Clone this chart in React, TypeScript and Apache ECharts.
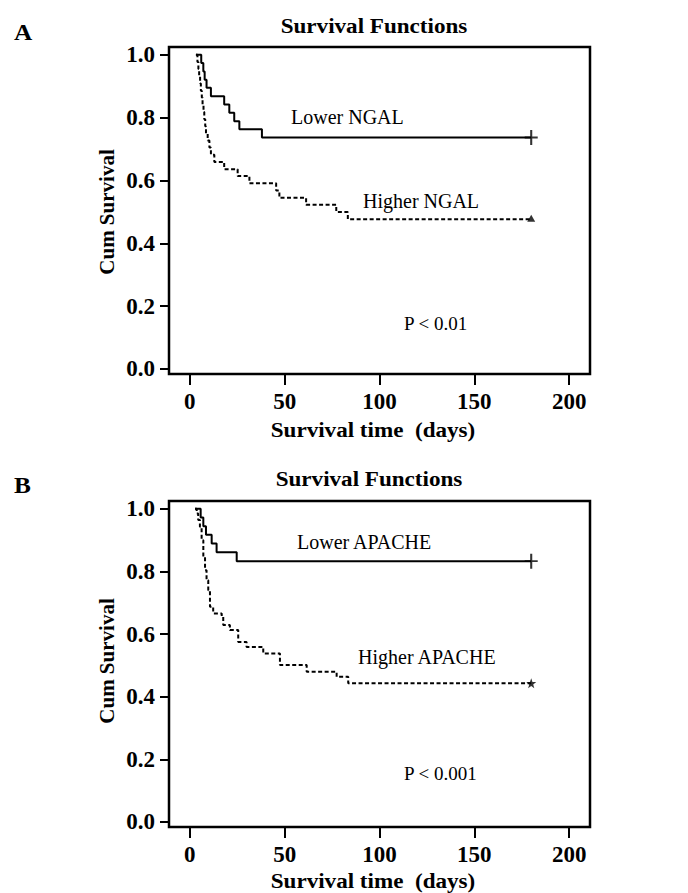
import React, { useEffect, useRef } from 'react';
import * as echarts from 'echarts';

const xTicks = [0, 50, 100, 150, 200];
const yTicks = [0, 0.2, 0.4, 0.6, 0.8, 1.0];

// Panel A: NGAL
const lowerNgalTime = [3.2, 6.0, 7.1, 7.8, 8.8, 11.1, 18.1, 20.8, 23.4, 26.1, 38.0, 180];
const lowerNgalSurv = [1.0, 0.974, 0.947, 0.921, 0.895, 0.868, 0.842, 0.816, 0.789, 0.763, 0.737, 0.737];

const higherNgalTime = [3.2, 4.0, 4.5, 4.9, 5.4, 5.8, 6.3, 6.7, 7.2, 7.6, 8.1, 8.5, 9.4, 10.3, 11.1, 12.9, 18.1, 25.2, 31.4, 45.5, 47.2, 61.3, 77.2, 83.3, 180];
const higherNgalSurv = [1.0, 0.977, 0.955, 0.932, 0.909, 0.886, 0.864, 0.841, 0.818, 0.795, 0.773, 0.75, 0.727, 0.705, 0.682, 0.659, 0.636, 0.614, 0.591, 0.568, 0.545, 0.523, 0.5, 0.477, 0.477];

// Panel B: APACHE
const lowerApacheTime = [2.7, 5.7, 7.1, 8.5, 11.5, 14.1, 24.7, 180];
const lowerApacheSurv = [1.0, 0.972, 0.944, 0.917, 0.889, 0.861, 0.833, 0.833];

const higherApacheTime = [2.7, 3.6, 4.4, 5.3, 6.2, 7.1, 8.0, 8.8, 9.7, 10.6, 12.3, 16.8, 17.6, 21.1, 25.5, 29.9, 38.7, 47.5, 61.6, 77.4, 83.5, 180];
const higherApacheSurv = [1.0, 0.985, 0.964, 0.943, 0.9, 0.847, 0.804, 0.772, 0.74, 0.687, 0.666, 0.655, 0.629, 0.613, 0.575, 0.559, 0.538, 0.501, 0.48, 0.464, 0.443, 0.443];

const FONT = "'Liberation Serif', 'Times New Roman', serif";

const PLUS = 'path://M-0.16,-1 L0.16,-1 L0.16,-0.13 L1,-0.13 L1,0.13 L0.16,0.13 L0.16,1 L-0.16,1 L-0.16,0.13 L-1,0.13 L-1,-0.13 L-0.16,-0.13 Z';
const STAR = 'path://M0,-10 L2.35,-3.24 L9.51,-3.09 L3.8,1.24 L5.88,8.09 L0,4 L-5.88,8.09 L-3.8,1.24 L-9.51,-3.09 L-2.35,-3.24 Z';

function pairs(t: number[], s: number[]) {
  return t.map((v, i) => [v, s[i]]);
}

function lastPoint(t: number[], s: number[]) {
  return [[t[t.length - 1], s[s.length - 1]]];
}

function xAxis(gridIndex: number) {
  return {
    type: 'value',
    gridIndex,
    min: -11,
    max: 211,
    axisLine: { show: false, onZero: false },
    axisTick: { show: true, customValues: xTicks, length: 11, lineStyle: { color: '#000', width: 2 } },
    axisLabel: {
      customValues: xTicks,
      margin: 16,
      fontFamily: FONT,
      fontSize: 23,
      fontWeight: 'bold',
      color: '#000',
    },
    splitLine: { show: false },
  };
}

function yAxis(gridIndex: number) {
  return {
    type: 'value',
    gridIndex,
    min: -0.016,
    max: 1.025,
    axisLine: { show: false, onZero: false },
    axisTick: { show: true, customValues: yTicks, length: 9, lineStyle: { color: '#000', width: 2 } },
    axisLabel: {
      customValues: yTicks,
      margin: 14,
      formatter: (v: number) => v.toFixed(1),
      fontFamily: FONT,
      fontSize: 23,
      fontWeight: 'bold',
      color: '#000',
    },
    splitLine: { show: false },
  };
}

function txt(text: string, x: number, y: number, opts: any = {}) {
  return {
    type: 'text',
    x,
    y,
    rotation: opts.rotation || 0,
    scaleX: opts.scaleX || 1,
    z: 100,
    style: {
      text,
      fill: '#000',
      font: `${opts.weight || 'normal'} ${opts.size || 20}px ${FONT}`,
      align: opts.align || 'left',
      verticalAlign: 'middle',
    },
  };
}

export default function App() {
  const ref = useRef<HTMLDivElement>(null);

  useEffect(() => {
    if (!ref.current) return;
    const chart = echarts.init(ref.current, undefined, { renderer: 'svg' });
    const solid = { color: '#000', width: 2, type: 'solid' };
    const dashed = { color: '#000', width: 2, type: [4, 2.5] };
    const bold = { weight: 'bold', size: 21, scaleX: 1.1 };

    chart.setOption({
      animation: false,
      backgroundColor: '#fff',
      grid: [
        { left: 169, top: 47, width: 421, height: 327, show: true, borderColor: '#000', borderWidth: 2.5, backgroundColor: 'transparent' },
        { left: 169, top: 501, width: 421, height: 326, show: true, borderColor: '#000', borderWidth: 2.5, backgroundColor: 'transparent' },
      ],
      xAxis: [xAxis(0), xAxis(1)],
      yAxis: [yAxis(0), yAxis(1)],
      series: [
        { type: 'line', xAxisIndex: 0, yAxisIndex: 0, step: 'end', symbol: 'none', lineStyle: solid, data: pairs(lowerNgalTime, lowerNgalSurv) },
        { type: 'line', xAxisIndex: 0, yAxisIndex: 0, step: 'end', symbol: 'none', lineStyle: dashed, data: pairs(higherNgalTime, higherNgalSurv) },
        { type: 'scatter', xAxisIndex: 0, yAxisIndex: 0, symbol: PLUS, symbolSize: [13, 15], itemStyle: { color: '#000' }, data: lastPoint(lowerNgalTime, lowerNgalSurv) },
        { type: 'scatter', xAxisIndex: 0, yAxisIndex: 0, symbol: 'triangle', symbolSize: [8, 7], symbolOffset: [0, -1], itemStyle: { color: '#000' }, data: lastPoint(higherNgalTime, higherNgalSurv) },

        { type: 'line', xAxisIndex: 1, yAxisIndex: 1, step: 'end', symbol: 'none', lineStyle: solid, data: pairs(lowerApacheTime, lowerApacheSurv) },
        { type: 'line', xAxisIndex: 1, yAxisIndex: 1, step: 'end', symbol: 'none', lineStyle: dashed, data: pairs(higherApacheTime, higherApacheSurv) },
        { type: 'scatter', xAxisIndex: 1, yAxisIndex: 1, symbol: PLUS, symbolSize: [13, 15], itemStyle: { color: '#000' }, data: lastPoint(lowerApacheTime, lowerApacheSurv) },
        { type: 'scatter', xAxisIndex: 1, yAxisIndex: 1, symbol: STAR, symbolSize: 10, itemStyle: { color: '#000' }, data: lastPoint(higherApacheTime, higherApacheSurv) },
      ],
      graphic: [
        txt('A', 14, 32, { weight: 'bold', size: 23, scaleX: 1.1 }),
        txt('B', 14, 485, { weight: 'bold', size: 23, scaleX: 1.1 }),
        txt('Survival Functions', 374, 26, { ...bold, align: 'center' }),
        txt('Survival Functions', 369, 479, { ...bold, align: 'center' }),
        txt('Cum Survival', 107, 212, { weight: 'bold', size: 21, align: 'center', rotation: Math.PI / 2 }),
        txt('Cum Survival', 107, 661, { weight: 'bold', size: 21, align: 'center', rotation: Math.PI / 2 }),
        txt('Survival time  (days)', 373, 430, { ...bold, align: 'center' }),
        txt('Survival time  (days)', 373, 881, { ...bold, align: 'center' }),
        txt('Lower NGAL', 291, 117, { size: 20 }),
        txt('Higher NGAL', 363, 201, { size: 20 }),
        txt('P < 0.01', 404, 323, { size: 19 }),
        txt('Lower APACHE', 297, 542, { size: 20 }),
        txt('Higher APACHE', 358, 657, { size: 20 }),
        txt('P < 0.001', 404, 773, { size: 19 }),
      ],
    });

    return () => chart.dispose();
  }, []);

  return <div ref={ref} style={{ position: 'absolute', left: 0, top: 0, width: 688, height: 893 }} />;
}
